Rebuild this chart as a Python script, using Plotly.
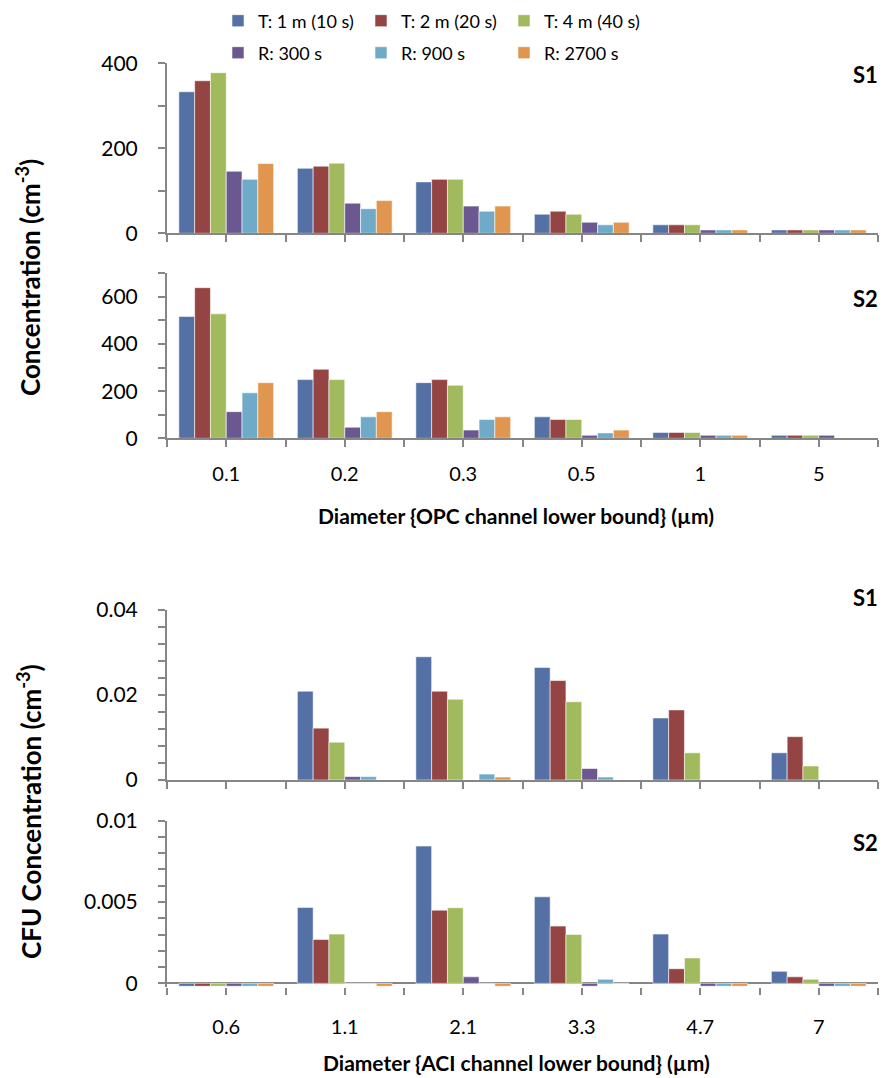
import plotly.graph_objects as go

# ---------------- data ----------------
opc_cats = ['0.1', '0.2', '0.3', '0.5', '1', '5']
aci_cats = ['0.6', '1.1', '2.1', '3.3', '4.7', '7']
series_names = ['T: 1 m (10 s)', 'T: 2 m (20 s)', 'T: 4 m (40 s)',
                'R: 300 s', 'R: 900 s', 'R: 2700 s']
series_colors = ['#5470A4', '#944442', '#A2BA5E', '#6B5890', '#6FABC8', '#E0964E']

# OPC, station S1 (cm^-3)
opc_s1_t1 = [333, 153, 121, 45, 20, 8]
opc_s1_t2 = [359, 158, 127, 52, 20, 8]
opc_s1_t4 = [378, 165, 127, 45, 20, 8]
opc_s1_r300 = [146, 71, 64, 26, 8, 8]
opc_s1_r900 = [127, 58, 52, 20, 8, 8]
opc_s1_r2700 = [164, 77, 64, 26, 8, 8]

# OPC, station S2 (cm^-3)
opc_s2_t1 = [517, 249, 236, 91, 25, 13]
opc_s2_t2 = [639, 293, 249, 80, 25, 13]
opc_s2_t4 = [528, 249, 225, 80, 25, 13]
opc_s2_r300 = [113, 47, 35, 13, 13, 13]
opc_s2_r900 = [193, 91, 80, 23, 13, 0]
opc_s2_r2700 = [236, 113, 91, 35, 13, 0]

# ACI CFU, station S1 (cm^-3)
aci_s1_t1 = [0, 0.0209, 0.0290, 0.0265, 0.0146, 0.0064]
aci_s1_t2 = [0, 0.0122, 0.0209, 0.0234, 0.0165, 0.0102]
aci_s1_t4 = [0, 0.0089, 0.0190, 0.0184, 0.0064, 0.0033]
aci_s1_r300 = [0, 0.0008, 0, 0.0027, 0, 0]
aci_s1_r900 = [0, 0.0008, 0.0014, 0.0007, 0, 0]
aci_s1_r2700 = [0, 0, 0.0007, 0, 0, 0]

# ACI CFU, station S2 (cm^-3)
aci_s2_t1 = [-0.00018, 0.00467, 0.00844, 0.00532, 0.00303, 0.00074]
aci_s2_t2 = [-0.00018, 0.00270, 0.00450, 0.00352, 0.00090, 0.00040]
aci_s2_t4 = [-0.00018, 0.00303, 0.00465, 0.00301, 0.00156, 0.00025]
aci_s2_r300 = [-0.00018, 0, 0.00040, -0.00018, -0.00018, -0.00018]
aci_s2_r900 = [-0.00018, 0, 0, 0.00025, -0.00018, -0.00018]
aci_s2_r2700 = [-0.00018, -0.00018, -0.00018, 0, -0.00018, -0.00018]

panels = [
    [opc_s1_t1, opc_s1_t2, opc_s1_t4, opc_s1_r300, opc_s1_r900, opc_s1_r2700],
    [opc_s2_t1, opc_s2_t2, opc_s2_t4, opc_s2_r300, opc_s2_r900, opc_s2_r2700],
    [aci_s1_t1, aci_s1_t2, aci_s1_t4, aci_s1_r300, aci_s1_r900, aci_s1_r2700],
    [aci_s2_t1, aci_s2_t2, aci_s2_t4, aci_s2_r300, aci_s2_r900, aci_s2_r2700],
]
panel_cats = [opc_cats, opc_cats, aci_cats, aci_cats]

# ---------------- layout helpers ----------------
# the page body adds an 8 px offset, so the figure is 8 px smaller
OFF = 8
W, H = 893 - OFF, 1078 - OFF
FONT = 'Lato, "Open Sans", sans-serif'
AX = '#868686'

def px(x):
    return (x - OFF) / W

def py(y):
    return 1 - (y - OFF) / H

x_dom = [px(167), px(878)]
# (top px, bottom px) of each plot area, in screen pixels
y_px = [(63.3, 233.3), (273.3, 438.3), (610.0, 780.0), (820.7, 986.6)]
y_ranges = [[0, 400], [0, 700], [0, 0.04], [-0.0002, 0.01]]
y_dtick = [200, 200, 0.02, 0.005]
y_minor = [100, 100, 0.004, 0.001]
show_labels = [False, True, False, True]
x_standoff = [10, 10, 10, 15]

fig = go.Figure()
for pi, vals in enumerate(panels):
    cats = panel_cats[pi]
    xs = list(range(len(cats)))
    for si, v in enumerate(vals):
        fig.add_trace(go.Bar(
            x=xs, y=v, name=series_names[si],
            marker=dict(color=series_colors[si],
                        line=dict(color='rgba(255,255,255,0.7)', width=0.8)),
            xaxis='x' if pi == 0 else 'x%d' % (pi + 1),
            yaxis='y' if pi == 0 else 'y%d' % (pi + 1),
            showlegend=(pi == 0),
            legend='legend' if si < 3 else 'legend2',
        ))

layout = dict(
    width=W, height=H,
    margin=dict(l=0, r=0, t=0, b=0, autoexpand=False),
    paper_bgcolor='white', plot_bgcolor='white',
    barmode='group', bargap=0.2, bargroupgap=0,
    font=dict(family=FONT, color='black', size=19),
)

for pi in range(4):
    cats = panel_cats[pi]
    n = len(cats)
    tv = [i * 0.5 - 0.5 for i in range(2 * n + 1)]
    tt = []
    for t in tv:
        if show_labels[pi] and abs(t - round(t)) < 1e-9:
            tt.append(cats[int(round(t))])
        else:
            tt.append(' ')
    xk = 'xaxis' if pi == 0 else 'xaxis%d' % (pi + 1)
    yk = 'yaxis' if pi == 0 else 'yaxis%d' % (pi + 1)
    top, bot = y_px[pi]
    neg = y_ranges[pi][0] < 0
    layout[xk] = dict(
        domain=x_dom, range=[-0.5, n - 0.5],
        anchor='y' if pi == 0 else 'y%d' % (pi + 1),
        tickmode='array', tickvals=tv, ticktext=tt,
        ticks='outside', ticklen=7, tickwidth=1.5, tickcolor=AX,
        showline=not neg, linecolor=AX, linewidth=2,
        showgrid=False, zeroline=False, automargin=False,
        tickfont=dict(size=20, family=FONT, color='black'),
        ticklabelstandoff=x_standoff[pi],
    )
    layout[yk] = dict(
        domain=[py(bot), py(top)], range=y_ranges[pi],
        anchor='x' if pi == 0 else 'x%d' % (pi + 1),
        tick0=0, dtick=y_dtick[pi],
        ticks='outside', ticklen=7, tickwidth=1.5, tickcolor=AX,
        minor=dict(tick0=0, dtick=y_minor[pi], ticks='outside', ticklen=7,
                   tickwidth=1.5, tickcolor=AX),
        showline=True, linecolor=AX, linewidth=2,
        showgrid=False, automargin=False,
        zeroline=neg, zerolinecolor=AX, zerolinewidth=2,
        tickfont=dict(size=21, family=FONT, color='black'),
        ticklabelstandoff=16,
    )

for key, ypx in (('legend', 21), ('legend2', 53)):
    layout[key] = dict(
        orientation='h', x=px(218), xanchor='left', y=py(ypx), yanchor='middle',
        entrywidth=98, font=dict(size=18, family=FONT, color='black'),
        bgcolor='rgba(0,0,0,0)', traceorder='normal', itemclick=False,
    )

fig.update_layout(**layout)

ann = []
def add_text(text, xpix, ypix, size, bold=True, angle=0, xanchor='center'):
    ann.append(dict(
        text='<b>%s</b>' % text if bold else text,
        x=px(xpix), y=py(ypix), xref='paper', yref='paper',
        xanchor=xanchor, yanchor='middle', showarrow=False, textangle=angle,
        font=dict(size=size, family=FONT, color='black'),
    ))

add_text('S1', 880, 75, 22, xanchor='right')
add_text('S2', 880, 299, 22, xanchor='right')
add_text('S1', 880, 597, 22, xanchor='right')
add_text('S2', 880, 842, 22, xanchor='right')
add_text('Concentration (cm<sup>-3</sup>)', 29, 278, 26, angle=-90)
add_text('CFU Concentration (cm<sup>-3</sup>)', 29, 812, 26, angle=-90)
add_text('Diameter {OPC channel lower bound} (µm)', 516, 516, 21)
add_text('Diameter {ACI channel lower bound} (µm)', 516, 1062, 21)
fig.update_layout(annotations=ann)

fig.write_html('out.html')
